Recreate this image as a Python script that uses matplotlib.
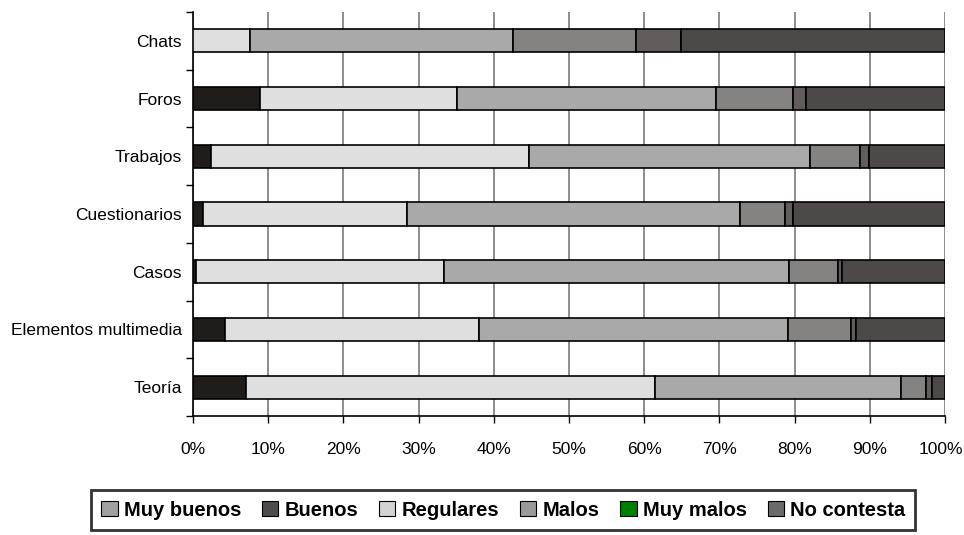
import numpy as np
import matplotlib.pyplot as plt
import matplotlib.transforms as mtransforms
from matplotlib.patches import Patch

plt.rcParams['font.family'] = ['Liberation Sans', 'DejaVu Sans']

categories = ['Chats', 'Foros', 'Trabajos', 'Cuestionarios', 'Casos',
              'Elementos multimedia', 'Teoría']
series_names = ['Muy buenos', 'Buenos', 'Regulares', 'Malos', 'Muy malos', 'No contesta']

# percent values per series, in category order
muy_buenos  = [0.0, 8.9, 2.4, 1.3, 0.4, 4.2, 7.1]
buenos      = [7.6, 26.2, 42.3, 27.1, 33.0, 33.8, 54.3]
regulares   = [35.0, 34.4, 37.4, 44.4, 45.8, 41.1, 32.7]
malos       = [16.3, 10.3, 6.6, 5.9, 6.6, 8.4, 3.4]
muy_malos   = [6.0, 1.7, 1.2, 1.1, 0.5, 0.7, 0.8]
no_contesta = [35.1, 18.5, 10.1, 20.2, 13.7, 11.8, 1.7]

bar_colors = ['#201c1a', '#dfdfdf', '#a9a9a9', '#858381', '#625d5c', '#4d4948']
legend_colors = ['#a0a0a0', '#4f4b4a', '#d3d3d3', '#9a9a9a', '#008000', '#6a6a6a']

fig = plt.figure(figsize=(9.64, 5.35), dpi=100)
ax = fig.add_axes([0.2002, 0.2224, 0.7801, 0.7552])

data = [muy_buenos, buenos, regulares, malos, muy_malos, no_contesta]
y = np.arange(len(categories))
left = np.zeros(len(categories))
for vals, col in zip(data, bar_colors):
    vals = np.array(vals)
    ax.barh(y, vals, left=left, height=0.4, color=col, edgecolor='black',
            linewidth=1.2, zorder=3)
    left += vals

ax.set_xlim(0, 100)
ax.set_ylim(len(categories) - 0.5, -0.5)
ax.set_xticks(np.arange(0, 101, 10))
ax.set_xticklabels([f'{v}%' for v in range(0, 101, 10)], fontsize=12.5)
ax.set_yticks(y)
ax.set_yticklabels(categories, fontsize=12.5)
ax.set_yticks(np.arange(-0.5, len(categories), 1), minor=True)
ax.tick_params(axis='y', which='major', length=0, pad=8)
ax.tick_params(axis='y', which='minor', length=5, direction='out', width=1)
ax.tick_params(axis='x', length=5, direction='out', width=1, pad=14)

# last label sits at the figure edge, pull it in a little
last = ax.get_xticklabels()[-1]
last.set_transform(last.get_transform() +
                   mtransforms.ScaledTranslation(-4 / 100, 0, fig.dpi_scale_trans))

ax.grid(axis='x', color='#7a7a7a', linewidth=1.2, zorder=0)
ax.set_axisbelow(True)
ax.spines['top'].set_visible(False)
ax.spines['right'].set_visible(False)
ax.spines['left'].set_linewidth(1.2)
ax.spines['bottom'].set_linewidth(1.2)

handles = [Patch(facecolor=c, edgecolor='black', linewidth=0.8) for c in legend_colors]
leg = fig.legend(handles, series_names, loc='center', bbox_to_anchor=(0.522, 0.0467),
                 ncol=6, frameon=True, fancybox=False, handlelength=0.8,
                 handleheight=0.8, handletextpad=0.3, columnspacing=1.05,
                 prop={'weight': 'bold', 'size': 14.5}, borderpad=0.5,
                 borderaxespad=0)
leg.get_frame().set_edgecolor('black')
leg.get_frame().set_linewidth(2)

fig.savefig('out.png', dpi=100)
